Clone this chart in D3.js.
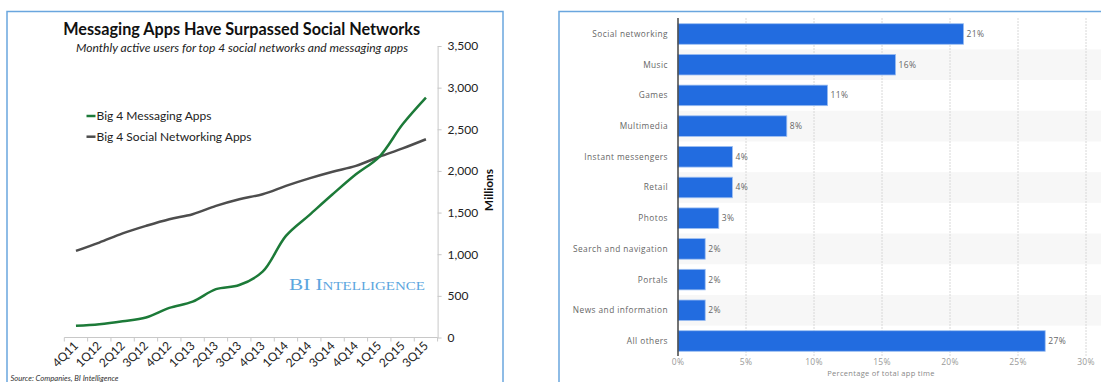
<!DOCTYPE html>
<html>
<head>
<meta charset="utf-8">
<script src="https://cdn.jsdelivr.net/npm/d3@7"></script>
<style>
  body { margin: 0; background: #fff; }
  svg { display: block; }
</style>
</head>
<body>
<svg id="viz" width="1101" height="382"></svg>
<script>
/* Data */

const quarters = ['4Q11', '1Q12', '2Q12', '3Q12', '4Q12', '1Q13', '2Q13', '3Q13',
  '4Q13', '1Q14', '2Q14', '3Q14', '4Q14', '1Q15', '2Q15', '3Q15'];
const messaging = [140, 160, 195, 240, 355, 430, 580, 630, 790, 1220, 1470, 1720, 1960, 2170, 2560, 2880];
const social = [1040, 1140, 1250, 1340, 1420, 1480, 1580, 1660, 1720, 1820, 1910, 1990, 2060, 2170, 2270, 2380];
const userTicks = [0, 500, 1000, 1500, 2000, 2500, 3000, 3500];

const categories = ['Social networking', 'Music', 'Games', 'Multimedia', 'Instant messengers',
  'Retail', 'Photos', 'Search and navigation', 'Portals', 'News and information', 'All others'];
const shares = [21, 16, 11, 8, 4, 4, 3, 2, 2, 2, 27];
const shareTicks = [0, 5, 10, 15, 20, 25, 30];

const svg = d3.select('#viz');

/* Panel borders */

svg.append('rect')
  .attr('x', 7).attr('y', 11.5).attr('width', 496).attr('height', 400)
  .attr('fill', 'none').attr('stroke', '#6aa6de').attr('stroke-width', 1.5);

svg.append('rect')
  .attr('x', 559).attr('y', 11.5).attr('width', 600).attr('height', 400)
  .attr('fill', 'none').attr('stroke', '#6aa6de').attr('stroke-width', 1.5);

/* Left: line chart */

const left = svg.append('g').style('font-family', 'Lato, sans-serif');

const x = d3.scaleBand().domain(quarters).range([64.3, 437.6]);
const y = d3.scaleLinear().domain([0, 3500]).range([337.5, 46]);

// y axis on the right
const yAxis = left.append('g')
  .attr('transform', 'translate(437.6,0)')
  .call(d3.axisRight(y).tickValues(userTicks).tickSize(4).tickSizeOuter(0)
    .tickPadding(6).tickFormat(d3.format(',')));
yAxis.select('.domain').attr('stroke', '#c8c8c8');
yAxis.selectAll('.tick line').attr('stroke', '#c8c8c8');
yAxis.selectAll('.tick text')
  .attr('fill', '#222').style('font-size', '12px').style('font-family', 'Lato, sans-serif');

// x axis with ticks on band edges
const x0 = x.range()[0];
left.append('line')
  .attr('x1', x0).attr('x2', x.range()[1])
  .attr('y1', y(0)).attr('y2', y(0))
  .attr('stroke', '#c8c8c8');
left.append('g')
  .selectAll('line')
  .data(d3.range(quarters.length + 1))
  .join('line')
  .attr('x1', (i) => x0 + i * x.step())
  .attr('x2', (i) => x0 + i * x.step())
  .attr('y1', y(0)).attr('y2', y(0) + 4)
  .attr('stroke', '#c8c8c8');
left.append('g')
  .selectAll('text')
  .data(quarters)
  .join('text')
  .attr('transform', (d) => 'translate(' + (x(d) + x.bandwidth() / 2 + 3) + ',' + (y(0) + 9) + ') rotate(-45)')
  .attr('text-anchor', 'end')
  .attr('fill', '#222')
  .style('font-size', '12px')
  .text((d) => d);

// lines
const line = d3.line()
  .x((d, i) => x(quarters[i]) + x.bandwidth() / 2)
  .y((d) => y(d))
  .curve(d3.curveCatmullRom.alpha(0.5));

left.append('path')
  .attr('d', line(social))
  .attr('fill', 'none').attr('stroke', '#4d4d4d').attr('stroke-width', 2.5);
left.append('path')
  .attr('d', line(messaging))
  .attr('fill', 'none').attr('stroke', '#1c7a38').attr('stroke-width', 2.5);

// titles
left.append('text')
  .attr('x', 241.7).attr('y', 35)
  .attr('text-anchor', 'middle')
  .attr('textLength', 357).attr('lengthAdjust', 'spacingAndGlyphs')
  .attr('fill', '#111')
  .style('font-size', '16.5px').style('font-weight', 'bold')
  .text('Messaging Apps Have Surpassed Social Networks');
left.append('text')
  .attr('x', 242).attr('y', 52)
  .attr('text-anchor', 'middle')
  .attr('textLength', 332).attr('lengthAdjust', 'spacingAndGlyphs')
  .attr('fill', '#222')
  .style('font-size', '12px').style('font-style', 'italic')
  .text('Monthly active users for top 4 social networks and messaging apps');

// legend
const legend = left.append('g')
  .selectAll('g')
  .data([['Big 4 Messaging Apps', '#1c7a38'], ['Big 4 Social Networking Apps', '#4d4d4d']])
  .join('g')
  .attr('transform', (d, i) => 'translate(86.5,' + (116 + i * 20.7) + ')');
legend.append('line')
  .attr('x1', 0).attr('x2', 9)
  .attr('stroke', (d) => d[1]).attr('stroke-width', 2.5);
legend.append('text')
  .attr('x', 10).attr('dy', '0.35em')
  .attr('fill', '#222')
  .style('font-size', '12px')
  .text((d) => d[0]);

// axis title
left.append('text')
  .attr('transform', 'translate(489,190) rotate(-90)')
  .attr('text-anchor', 'middle').attr('dy', '0.35em')
  .attr('fill', '#111')
  .style('font-size', '12px').style('font-weight', 'bold')
  .text('Millions');

// watermark
left.append('text')
  .attr('x', 289).attr('y', 289.5)
  .attr('textLength', 136).attr('lengthAdjust', 'spacingAndGlyphs')
  .attr('fill', '#5ca6de')
  .style('font-family', '"Liberation Serif", serif')
  .style('font-size', '17px').style('font-variant', 'small-caps')
  .text('BI Intelligence');

// source
left.append('text')
  .attr('x', 10.5).attr('y', 380.5)
  .attr('textLength', 108).attr('lengthAdjust', 'spacingAndGlyphs')
  .attr('fill', '#333')
  .style('font-size', '7.5px').style('font-style', 'italic')
  .text('Source: Companies, BI Intelligence');

/* Right: bar chart */

const right = svg.append('g').style('font-family', '"Open Sans", sans-serif');

const xs = d3.scaleLinear().domain([0, 30]).range([678, 1086]);
const ys = d3.scaleBand().domain(categories).range([18.65, 356.35]);
const barH = ys.step() * 0.67;

// alternating rows
right.append('g')
  .selectAll('rect')
  .data(categories.filter((d, i) => i % 2 === 1))
  .join('rect')
  .attr('x', xs(0)).attr('width', 1101 - xs(0))
  .attr('y', (d) => ys(d)).attr('height', ys.step())
  .attr('fill', '#f7f7f7');

// grid lines
right.append('g')
  .selectAll('line')
  .data(shareTicks.slice(1))
  .join('line')
  .attr('x1', (d) => xs(d)).attr('x2', (d) => xs(d))
  .attr('y1', 18).attr('y2', 356)
  .attr('stroke', '#d8d8d8').attr('stroke-dasharray', '2,1');

// bars
right.append('g')
  .selectAll('rect')
  .data(shares)
  .join('rect')
  .attr('x', xs(0))
  .attr('y', (d, i) => ys(categories[i]) + (ys.step() - barH) / 2)
  .attr('width', (d) => xs(d) - xs(0))
  .attr('height', barH)
  .attr('fill', '#226ce0')
  .attr('stroke', '#9cbff2').attr('stroke-width', 0.8);

// value labels
right.append('g')
  .selectAll('text')
  .data(shares)
  .join('text')
  .attr('x', (d) => xs(d) + 3)
  .attr('y', (d, i) => ys(categories[i]) + ys.step() / 2)
  .attr('dy', '0.35em')
  .attr('fill', '#666')
  .style('font-size', '8.5px').style('letter-spacing', '0.4px')
  .text((d) => d + '%');

// category labels
right.append('g')
  .selectAll('text')
  .data(categories)
  .join('text')
  .attr('x', 668)
  .attr('y', (d) => ys(d) + ys.step() / 2)
  .attr('dy', '0.35em')
  .attr('text-anchor', 'end')
  .attr('fill', '#666')
  .style('font-size', '8.3px').style('letter-spacing', '0.45px')
  .text((d) => d);

// axis line
right.append('line')
  .attr('x1', xs(0)).attr('x2', xs(0))
  .attr('y1', 18).attr('y2', 356)
  .attr('stroke', '#444').attr('stroke-width', 1.5);

// x tick labels
right.append('g')
  .selectAll('text')
  .data(shareTicks)
  .join('text')
  .attr('x', (d) => xs(d))
  .attr('y', 365)
  .attr('text-anchor', 'middle')
  .attr('fill', '#999')
  .style('font-size', '8.5px').style('letter-spacing', '0.3px')
  .text((d) => d + '%');

right.append('text')
  .attr('x', 881).attr('y', 375.5)
  .attr('text-anchor', 'middle')
  .attr('fill', '#888')
  .style('font-size', '7.5px').style('letter-spacing', '0.3px')
  .text('Percentage of total app time');
</script>
</body>
</html>
